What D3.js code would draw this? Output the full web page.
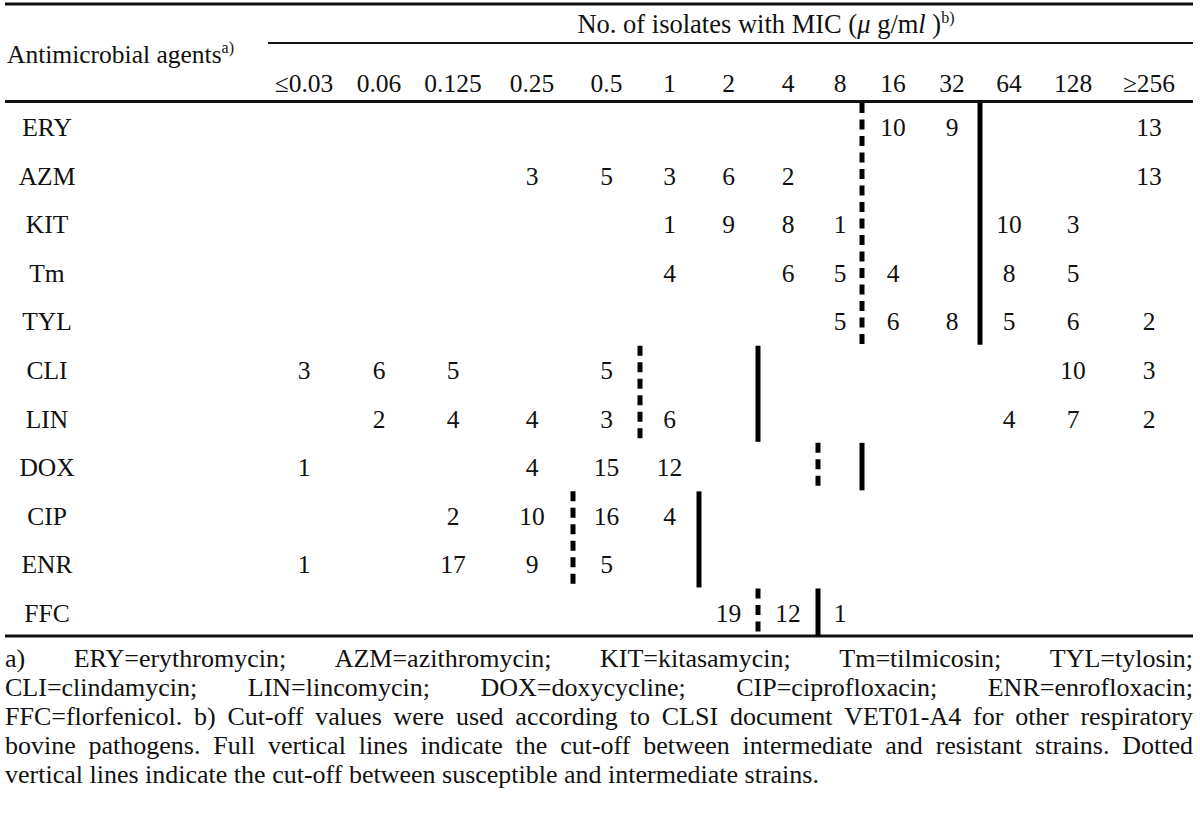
<!DOCTYPE html>
<html>
<head>
<meta charset="utf-8">
<script src="https://cdn.jsdelivr.net/npm/d3@7"></script>
<style>
  html, body { margin: 0; padding: 0; background: #fff; }
  svg { display: block; }
  text { font-family: "Liberation Serif", "Times New Roman", serif; fill: #111; }
</style>
</head>
<body>
<svg id="chart" width="1200" height="818"></svg>
<script>
// ---------------- data ----------------
const agents = ["ERY", "AZM", "KIT", "Tm", "TYL", "CLI", "LIN", "DOX", "CIP", "ENR", "FFC"];
const micLabels = ["≤0.03", "0.06", "0.125", "0.25", "0.5", "1", "2", "4", "8", "16", "32", "64", "128", "≥256"];
const countsERY = [null, null, null, null, null, null, null, null, null, 10, 9, null, null, 13];
const countsAZM = [null, null, null, 3, 5, 3, 6, 2, null, null, null, null, null, 13];
const countsKIT = [null, null, null, null, null, 1, 9, 8, 1, null, null, 10, 3, null];
const countsTm  = [null, null, null, null, null, 4, null, 6, 5, 4, null, 8, 5, null];
const countsTYL = [null, null, null, null, null, null, null, null, 5, 6, 8, 5, 6, 2];
const countsCLI = [3, 6, 5, null, 5, null, null, null, null, null, null, null, 10, 3];
const countsLIN = [null, 2, 4, 4, 3, 6, null, null, null, null, null, 4, 7, 2];
const countsDOX = [1, null, null, 4, 15, 12, null, null, null, null, null, null, null, null];
const countsCIP = [null, null, 2, 10, 16, 4, null, null, null, null, null, null, null, null];
const countsENR = [1, null, 17, 9, 5, null, null, null, null, null, null, null, null, null];
const countsFFC = [null, null, null, null, null, null, 19, 12, 1, null, null, null, null, null];
const counts = [countsERY, countsAZM, countsKIT, countsTm, countsTYL, countsCLI, countsLIN, countsDOX, countsCIP, countsENR, countsFFC];
// first MIC column of the intermediate range (dotted) and of the resistant range (full)
const cutSusceptible = ["16", "16", "16", "16", "16", "1", "1", "8", "0.5", "0.5", "4"];
const cutResistant   = ["64", "64", "64", "64", "64", "4", "4", "16", "2", "2", "8"];

const footnoteLines = [
  "a) ERY=erythromycin; AZM=azithromycin; KIT=kitasamycin; Tm=tilmicosin; TYL=tylosin;",
  "CLI=clindamycin; LIN=lincomycin; DOX=doxycycline; CIP=ciprofloxacin; ENR=enrofloxacin;",
  "FFC=florfenicol. b) Cut-off values were used according to CLSI document VET01-A4 for other respiratory",
  "bovine pathogens. Full vertical lines indicate the cut-off between intermediate and resistant strains. Dotted",
  "vertical lines indicate the cut-off between susceptible and intermediate strains."
];

// ---------------- layout ----------------
const left = 5, right = 1193;
const fontSize = 25.5;
const colEdges = [265, 343, 415, 491, 573, 640, 699, 758, 818, 862, 924, 980, 1038, 1108, 1190];
const labelX = 47;

const svg = d3.select("#chart");

const colScale = d3.scaleLinear().domain(d3.range(micLabels.length + 1)).range(colEdges);
const colIndex = new Map(micLabels.map((m, i) => [m, i]));
const xCenter = m => colScale(colIndex.get(m) + 0.5);
const xEdge = m => colScale(colIndex.get(m));

const y = d3.scaleBand().domain(agents).range([102, 636]).padding(0);

// horizontal rules
const rules = [
  { x1: left, x2: right, y: 4, w: 3 },
  { x1: 268, x2: right, y: 43, w: 2.2 },
  { x1: left, x2: right, y: 101.5, w: 3 },
  { x1: left, x2: right, y: 636, w: 3 }
];
svg.selectAll("line.rule").data(rules).join("line")
  .attr("class", "rule")
  .attr("x1", d => d.x1).attr("x2", d => d.x2)
  .attr("y1", d => d.y).attr("y2", d => d.y)
  .attr("stroke", "#111").attr("stroke-width", d => d.w);

// header: Antimicrobial agents
const h1 = svg.append("text").attr("x", 7).attr("y", 63).attr("font-size", fontSize);
h1.append("tspan").text("Antimicrobial agents");
h1.append("tspan").attr("font-size", 16).attr("dy", -10).text("a)");

// header: No. of isolates with MIC
const h2 = svg.append("text")
  .attr("x", 766).attr("y", 33)
  .attr("text-anchor", "middle").attr("font-size", 26.5);
h2.append("tspan").text("No. of isolates with MIC (");
h2.append("tspan").attr("font-style", "italic").text("μ");
h2.append("tspan").text(" g/m");
h2.append("tspan").attr("font-style", "italic").text("l");
h2.append("tspan").text(" )");
h2.append("tspan").attr("font-size", 16).attr("dy", -10).text("b)");

// column labels
svg.selectAll("text.colLabel").data(micLabels).join("text")
  .attr("class", "colLabel")
  .attr("x", d => xCenter(d)).attr("y", 92)
  .attr("text-anchor", "middle").attr("font-size", fontSize)
  .text(d => d);

// row labels
svg.selectAll("text.rowLabel").data(agents).join("text")
  .attr("class", "rowLabel")
  .attr("x", labelX).attr("y", d => y(d) + y.bandwidth() / 2 + 10)
  .attr("text-anchor", "middle").attr("font-size", fontSize)
  .text(d => d);

// cell values
const cells = [];
agents.forEach((a, i) => counts[i].forEach((v, j) => { if (v != null) cells.push({ agent: a, mic: micLabels[j], v }); }));
svg.selectAll("text.cell").data(cells).join("text")
  .attr("class", "cell")
  .attr("x", d => xCenter(d.mic)).attr("y", d => y(d.agent) + y.bandwidth() / 2 + 10)
  .attr("text-anchor", "middle").attr("font-size", fontSize)
  .text(d => d.v);

// cut-off vertical lines: merge consecutive rows with same cut
function segments(cuts) {
  const segs = [];
  agents.forEach((a, i) => {
    const last = segs[segs.length - 1];
    if (last && last.mic === cuts[i] && last.end === i - 1) { last.end = i; }
    else segs.push({ mic: cuts[i], start: i, end: i });
  });
  return segs;
}
const dotted = segments(cutSusceptible);
const full = segments(cutResistant);

svg.selectAll("line.dotted").data(dotted).join("line")
  .attr("class", "dotted")
  .attr("x1", d => xEdge(d.mic)).attr("x2", d => xEdge(d.mic))
  .attr("y1", d => y(agents[d.start]) + 1).attr("y2", d => y(agents[d.end]) + y.bandwidth())
  .attr("stroke", "#000").attr("stroke-width", 5)
  .attr("stroke-dasharray", "10 6.5");

svg.selectAll("line.full").data(full).join("line")
  .attr("class", "full")
  .attr("x1", d => xEdge(d.mic)).attr("x2", d => xEdge(d.mic))
  .attr("y1", d => y(agents[d.start]) + 1).attr("y2", d => y(agents[d.end]) + y.bandwidth())
  .attr("stroke", "#000").attr("stroke-width", 5);

// footnote: justified lines except the last
const footSize = 26;
const footStart = 667, footStep = 29;
footnoteLines.forEach((line, li) => {
  const words = line.split(" ");
  const yy = footStart + li * footStep;
  const g = svg.append("g");
  const ts = words.map(w => g.append("text").attr("y", yy).attr("font-size", footSize).text(w));
  const widths = ts.map(t => t.node().getComputedTextLength());
  const total = d3.sum(widths);
  const justify = li < footnoteLines.length - 1;
  const spaceW = footSize * 0.25;
  const gap = justify ? (right - left - total) / (words.length - 1) : spaceW;
  let x = left;
  ts.forEach((t, k) => { t.attr("x", x); x += widths[k] + gap; });
});
</script>
</body>
</html>
